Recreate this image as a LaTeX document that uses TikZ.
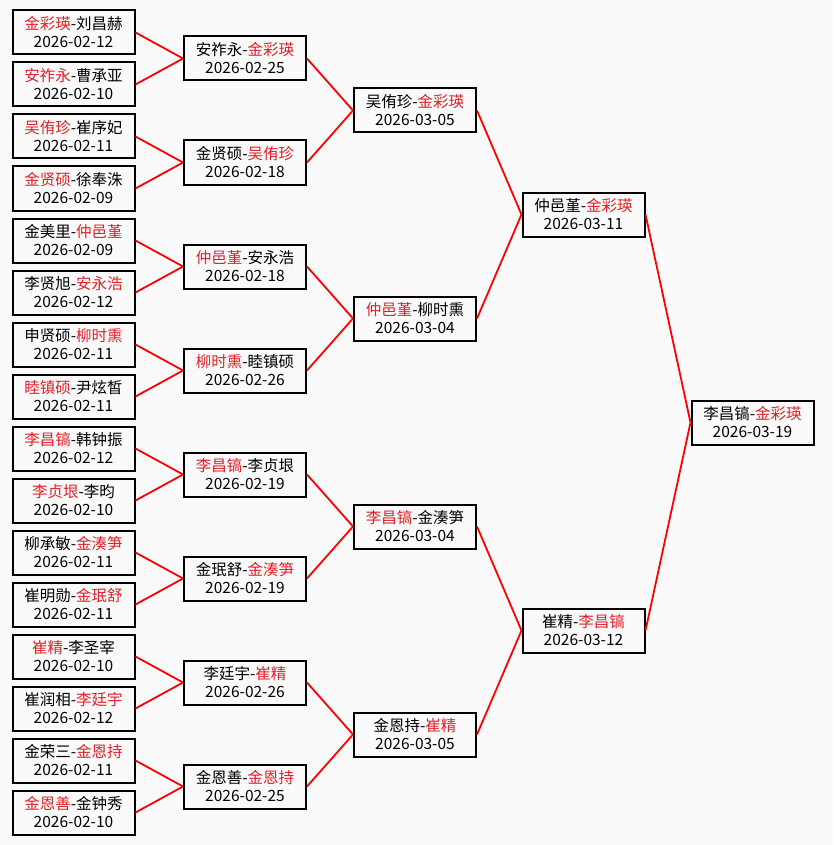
\documentclass[tikz,border=0pt]{standalone}
\usepackage{fontspec}
\setmainfont{Noto Sans CJK SC}
\usepackage{xcolor}
\usepackage{tikz}
\usetikzlibrary{positioning}
\definecolor{winred}{RGB}{226,32,40}
\definecolor{paper}{RGB}{250,250,250}
\newcommand{\win}[1]{\textcolor{winred}{#1}}

\begin{document}
\begin{tikzpicture}[
    x=1pt, y=-1pt,
    match/.style={draw, line width=2pt, fill=paper, align=center, inner sep=0pt,
      minimum width=122pt, minimum height=44pt, font=\fontsize{15.5}{18}\selectfont},
    link/.style={red, line width=1.8pt}
  ]
    \fill[paper] (0,0) rectangle (833,845);
    \useasboundingbox (0,0) rectangle (833,845);

    % round 1
    \node[match] (a1)  at (73.5,32.5)  {\win{金彩瑛}-刘昌赫\\2026-02-12};
    \node[match] (a2)  at (73.5,84.5)  {\win{安祚永}-曹承亚\\2026-02-10};
    \node[match] (a3)  at (73.5,136.5) {\win{吴侑珍}-崔序妃\\2026-02-11};
    \node[match] (a4)  at (73.5,188.5) {\win{金贤硕}-徐奉洙\\2026-02-09};
    \node[match] (a5)  at (73.5,240.5) {金美里-\win{仲邑堇}\\2026-02-09};
    \node[match] (a6)  at (73.5,292.5) {李贤旭-\win{安永浩}\\2026-02-12};
    \node[match] (a7)  at (73.5,344.5) {申贤硕-\win{柳时熏}\\2026-02-11};
    \node[match] (a8)  at (73.5,396.5) {\win{睦镇硕}-尹炫皙\\2026-02-11};
    \node[match] (a9)  at (73.5,448.5) {\win{李昌镐}-韩钟振\\2026-02-12};
    \node[match] (a10) at (73.5,500.5) {\win{李贞垠}-李昀\\2026-02-10};
    \node[match] (a11) at (73.5,552.5) {柳承敏-\win{金湊笋}\\2026-02-11};
    \node[match] (a12) at (73.5,604.5) {崔明勋-\win{金珉舒}\\2026-02-11};
    \node[match] (a13) at (73.5,656.5) {\win{崔精}-李圣宰\\2026-02-10};
    \node[match] (a14) at (73.5,708.5) {崔润相-\win{李廷宇}\\2026-02-12};
    \node[match] (a15) at (73.5,760.5) {金荣三-\win{金恩持}\\2026-02-11};
    \node[match] (a16) at (73.5,812.5) {\win{金恩善}-金钟秀\\2026-02-10};

    % round 2
    \node[match] (b1) at (245,58.5)  {安祚永-\win{金彩瑛}\\2026-02-25};
    \node[match] (b2) at (245,162.5) {金贤硕-\win{吴侑珍}\\2026-02-18};
    \node[match] (b3) at (245,266.5) {\win{仲邑堇}-安永浩\\2026-02-18};
    \node[match] (b4) at (245,370.5) {\win{柳时熏}-睦镇硕\\2026-02-26};
    \node[match] (b5) at (245,474.5) {\win{李昌镐}-李贞垠\\2026-02-19};
    \node[match] (b6) at (245,578.5) {金珉舒-\win{金湊笋}\\2026-02-19};
    \node[match] (b7) at (245,682.5) {李廷宇-\win{崔精}\\2026-02-26};
    \node[match] (b8) at (245,786.5) {金恩善-\win{金恩持}\\2026-02-25};

    % round 3
    \node[match] (c1) at (415,110.5) {吴侑珍-\win{金彩瑛}\\2026-03-05};
    \node[match] (c2) at (415,318.5) {\win{仲邑堇}-柳时熏\\2026-03-04};
    \node[match] (c3) at (415,526.5) {\win{李昌镐}-金湊笋\\2026-03-04};
    \node[match] (c4) at (415,734.5) {金恩持-\win{崔精}\\2026-03-05};

    % semifinals and final
    \node[match] (d1) at (583.5,214.5) {仲邑堇-\win{金彩瑛}\\2026-03-11};
    \node[match] (d2) at (583.5,630.5) {崔精-\win{李昌镐}\\2026-03-12};
    \node[match] (e1) at (752.5,422.5) {李昌镐-\win{金彩瑛}\\2026-03-19};

    \draw[link] (a1.east) -- (b1.west);
    \draw[link] (a2.east) -- (b1.west);
    \draw[link] (a3.east) -- (b2.west);
    \draw[link] (a4.east) -- (b2.west);
    \draw[link] (a5.east) -- (b3.west);
    \draw[link] (a6.east) -- (b3.west);
    \draw[link] (a7.east) -- (b4.west);
    \draw[link] (a8.east) -- (b4.west);
    \draw[link] (a9.east) -- (b5.west);
    \draw[link] (a10.east) -- (b5.west);
    \draw[link] (a11.east) -- (b6.west);
    \draw[link] (a12.east) -- (b6.west);
    \draw[link] (a13.east) -- (b7.west);
    \draw[link] (a14.east) -- (b7.west);
    \draw[link] (a15.east) -- (b8.west);
    \draw[link] (a16.east) -- (b8.west);

    \draw[link] (b1.east) -- (c1.west);
    \draw[link] (b2.east) -- (c1.west);
    \draw[link] (b3.east) -- (c2.west);
    \draw[link] (b4.east) -- (c2.west);
    \draw[link] (b5.east) -- (c3.west);
    \draw[link] (b6.east) -- (c3.west);
    \draw[link] (b7.east) -- (c4.west);
    \draw[link] (b8.east) -- (c4.west);

    \draw[link] (c1.east) -- (d1.west);
    \draw[link] (c2.east) -- (d1.west);
    \draw[link] (c3.east) -- (d2.west);
    \draw[link] (c4.east) -- (d2.west);

    \draw[link] (d1.east) -- (e1.west);
    \draw[link] (d2.east) -- (e1.west);
  \end{tikzpicture}
\end{document}
